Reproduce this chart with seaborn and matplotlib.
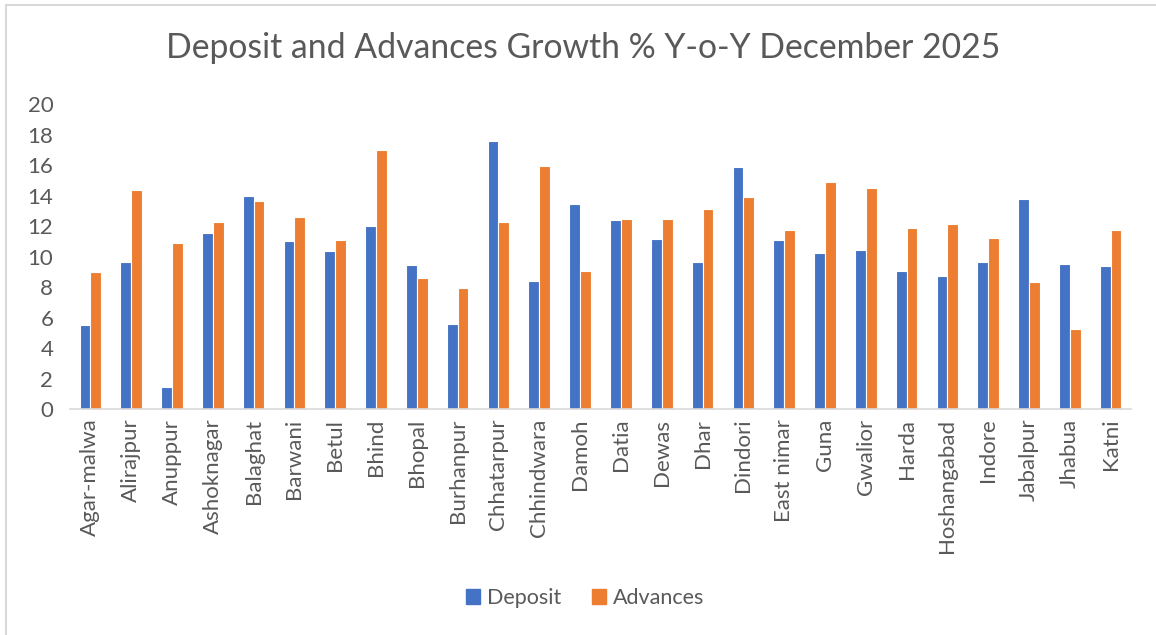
import matplotlib
matplotlib.use("Agg")
import matplotlib.pyplot as plt
import matplotlib.patches as mpatches
import seaborn as sns
import pandas as pd

districts = ["Agar-malwa", "Alirajpur", "Anuppur", "Ashoknagar", "Balaghat", "Barwani",
             "Betul", "Bhind", "Bhopal", "Burhanpur", "Chhatarpur", "Chhindwara", "Damoh",
             "Datia", "Dewas", "Dhar", "Dindori", "East nimar", "Guna", "Gwalior", "Harda",
             "Hoshangabad", "Indore", "Jabalpur", "Jhabua", "Katni"]
deposit = [5.5, 9.66, 1.42, 11.56, 13.95, 11.04, 10.36, 12.02, 9.42, 5.6, 17.6, 8.37, 13.46,
           12.42, 11.15, 9.66, 15.87, 11.05, 10.25, 10.4, 9.07, 8.7, 9.66, 13.79, 9.53, 9.36]
advances = [9.0, 14.34, 10.89, 12.26, 13.62, 12.61, 11.06, 17.0, 8.59, 7.93, 12.26, 15.96, 9.07,
            12.48, 12.48, 13.14, 13.9, 11.76, 14.89, 14.49, 11.85, 12.13, 11.23, 8.33, 5.25, 11.76]
series = ["Deposit", "Advances"]
colors = ["#4472C4", "#ED7D31"]
yticks = [0, 2, 4, 6, 8, 10, 12, 14, 16, 18, 20]

df = pd.DataFrame({"district": districts * 2,
                   "series": [series[0]] * len(districts) + [series[1]] * len(districts),
                   "value": deposit + advances})

sns.set_style("white")
plt.rcParams["font.family"] = ["Lato", "DejaVu Sans"]
TXT = "#595959"

fig = plt.figure(figsize=(11.56, 6.35), dpi=100)
ax = fig.add_axes([70 / 1156, 1 - 409 / 635, (1131 - 70) / 1156, 305 / 635])

sns.barplot(data=df, x="district", y="value", hue="series", palette=colors, saturation=1,
            width=0.53, edgecolor="white", linewidth=0.8, ax=ax)

ax.set_ylim(0, 20)
ax.set_xlim(-0.5, len(districts) - 0.5)
ax.set_yticks(yticks)
ax.set_xlabel("")
ax.set_ylabel("")
ax.tick_params(axis="y", labelsize=16, colors=TXT, length=0, pad=12)
ax.tick_params(axis="x", labelsize=16, colors=TXT, length=0, pad=7, labelrotation=90)
for s in ["top", "right", "left"]:
    ax.spines[s].set_visible(False)
ax.spines["bottom"].set_color("#D9D9D9")
ax.spines["bottom"].set_linewidth(1.2)

ax.legend_.remove()
handles = [mpatches.Patch(color=c, label=s) for c, s in zip(colors, series)]
fig.legend(handles=handles, loc="center", bbox_to_anchor=(585 / 1156, 1 - 598 / 635),
           ncol=2, frameon=False, fontsize=15.5, labelcolor=TXT, handlelength=0.65,
           handleheight=0.65, handletextpad=0.35, columnspacing=1.4)

fig.text(583 / 1156, 1 - 48 / 635, "Deposit and Advances Growth % Y-o-Y December 2025",
         ha="center", va="center", fontsize=24.3, color=TXT)

# chart border (only top and left visible in the crop)
fig.add_artist(plt.Line2D([6 / 1156, 1], [1 - 5 / 635, 1 - 5 / 635], transform=fig.transFigure,
                          color="#D9D9D9", linewidth=1.5))
fig.add_artist(plt.Line2D([6 / 1156, 6 / 1156], [0, 1 - 5 / 635], transform=fig.transFigure,
                          color="#D9D9D9", linewidth=1.5))

fig.savefig("out.png", dpi=100)
plt.close()
